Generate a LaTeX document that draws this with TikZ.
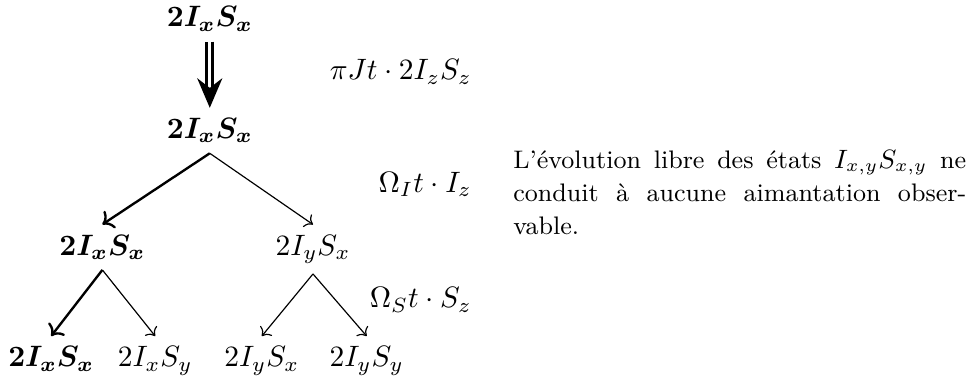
\documentclass[tikz,border=0pt]{standalone}
\usepackage{fontspec}
\usepackage{amsmath,amssymb}
\usetikzlibrary{arrows.meta, positioning}

\begin{document}
\begin{tikzpicture}[
    state/.style={anchor=base},
    rot/.style={anchor=base east, inner sep=0pt},
    arrow/.style={->},
    boldarrow/.style={->, thick},
    dblarrow/.style={
        double, double distance=1pt, line width=1pt,
        -{Stealth[length=10pt, width=8.5pt]}
    }
]
\useasboundingbox (0,0) rectangle (11.56,-4.53);

% Etats
\node[state] (s0) at (2.50,-0.32) {$\boldsymbol{2I_xS_x}$};
\node[state] (s1) at (2.50,-1.65) {$\boldsymbol{2I_xS_x}$};
\node[state] (s1a) at (1.22,-3.04) {$\boldsymbol{2I_xS_x}$};
\node[state] (s1b) at (3.73,-3.04) {$2I_yS_x$};
\node[state] (s2a) at (0.61,-4.37) {$\boldsymbol{2I_xS_x}$};
\node[state] (s2b) at (1.85,-4.37) {$2I_xS_y$};
\node[state] (s2c) at (3.12,-4.37) {$2I_yS_x$};
\node[state] (s2d) at (4.37,-4.37) {$2I_yS_y$};

% Rotations
\node[rot] (r1) at (5.63,-0.95) {$\pi Jt\cdot 2I_zS_z$};
\node[rot] (r2) at (5.63,-2.29) {$\Omega_It\cdot I_z$};
\node[rot] (r3) at (5.63,-3.67) {$\Omega_St\cdot S_z$};

% Commentaire
\node[anchor=north west, text width=153.6pt, inner sep=0pt, align=justify,
      font=\fontsize{8.6pt}{11.2pt}\selectfont] (note) at (6.11,-1.79) {%
\parindent=0pt
L'évolution libre des états $I_{x,y}S_{x,y}$ ne\linebreak
conduit à aucune aimantation obser-\linebreak
vable.
};

% Fleches
\draw[dblarrow] (s0.south) -- (s1.north);
\draw[boldarrow] (s1.south) -- (s1a.north);
\draw[arrow] (s1.south) -- (s1b.north);
\draw[boldarrow] (s1a.south) -- (s2a.north);
\draw[arrow] (s1a.south) -- (s2b.north);
\draw[arrow] (s1b.south) -- (s2c.north);
\draw[arrow] (s1b.south) -- (s2d.north);

\end{tikzpicture}
\end{document}
